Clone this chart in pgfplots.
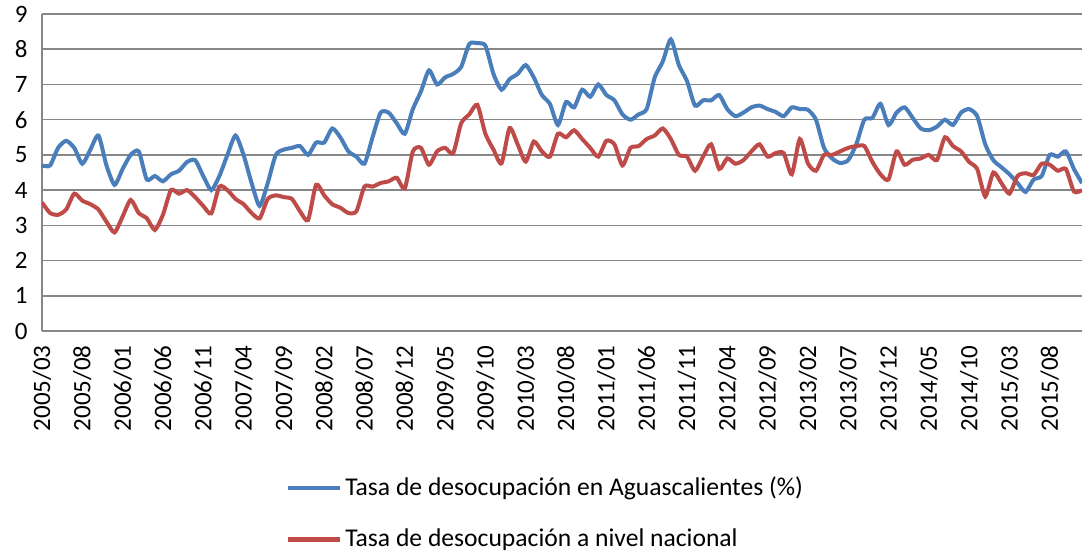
\documentclass[border=0pt]{standalone}
\usepackage{pgfplots}
\pgfplotsset{compat=1.18}
\usepackage{pgfplotstable}
\usepackage{fontspec}
\setmainfont{Carlito}
\definecolor{exblue}{HTML}{4A7EBB}
\definecolor{exred}{HTML}{BE4B48}
\definecolor{gridgray}{HTML}{878787}
\pgfplotstableread{
i a n
0 4.70 3.65
1 4.70 3.35
2 5.20 3.30
3 5.40 3.45
4 5.20 3.90
5 4.75 3.70
6 5.15 3.60
7 5.55 3.45
8 4.70 3.10
9 4.15 2.80
10 4.60 3.25
11 5.00 3.72
12 5.10 3.35
13 4.30 3.20
14 4.40 2.87
15 4.25 3.30
16 4.45 4.00
17 4.55 3.90
18 4.80 4.00
19 4.85 3.80
20 4.40 3.55
21 4.00 3.34
22 4.40 4.10
23 5.00 4.00
24 5.55 3.75
25 5.00 3.60
26 4.20 3.35
27 3.55 3.20
28 4.20 3.75
29 5.00 3.85
30 5.15 3.80
31 5.20 3.75
32 5.25 3.40
33 5.00 3.15
34 5.35 4.15
35 5.35 3.85
36 5.75 3.60
37 5.50 3.50
38 5.10 3.35
39 4.95 3.40
40 4.75 4.10
41 5.50 4.10
42 6.20 4.20
43 6.20 4.25
44 5.90 4.35
45 5.60 4.05
46 6.30 5.10
47 6.80 5.20
48 7.40 4.72
49 7.00 5.10
50 7.20 5.20
51 7.30 5.05
52 7.50 5.90
53 8.15 6.15
54 8.17 6.42
55 8.10 5.60
56 7.30 5.15
57 6.85 4.76
58 7.15 5.76
59 7.30 5.30
60 7.55 4.81
61 7.20 5.38
62 6.70 5.10
63 6.45 4.95
64 5.85 5.60
65 6.50 5.50
66 6.35 5.70
67 6.85 5.45
68 6.65 5.20
69 7.00 4.95
70 6.70 5.40
71 6.55 5.30
72 6.15 4.70
73 6.00 5.20
74 6.15 5.25
75 6.30 5.45
76 7.20 5.55
77 7.65 5.75
78 8.28 5.45
79 7.55 5.00
80 7.10 4.95
81 6.40 4.55
82 6.55 4.95
83 6.55 5.30
84 6.70 4.60
85 6.30 4.90
86 6.10 4.75
87 6.20 4.85
88 6.35 5.10
89 6.40 5.30
90 6.30 4.95
91 6.22 5.05
92 6.10 5.05
93 6.35 4.45
94 6.30 5.45
95 6.28 4.76
96 6.00 4.55
97 5.20 5.00
98 4.90 5.00
99 4.77 5.10
100 4.85 5.20
101 5.30 5.25
102 6.00 5.25
103 6.05 4.80
104 6.45 4.45
105 5.85 4.30
106 6.20 5.10
107 6.35 4.72
108 6.05 4.86
109 5.75 4.90
110 5.70 5.00
111 5.80 4.85
112 6.00 5.50
113 5.85 5.25
114 6.20 5.10
115 6.30 4.80
116 6.10 4.60
117 5.30 3.82
118 4.85 4.50
119 4.65 4.20
120 4.45 3.90
121 4.20 4.40
122 3.95 4.48
123 4.30 4.43
124 4.40 4.75
125 5.00 4.72
126 4.95 4.55
127 5.10 4.60
128 4.60 3.96
129 4.20 4.00
}\datatable
\begin{document}
\begin{tikzpicture}
\begin{axis}[
  scale only axis,
  width=520pt, height=158.5pt,
  xmin=0, xmax=129,
  ymin=0, ymax=9,
  ytick={0,1,...,9},
  xtick={0,5,...,125},
  xticklabels={2005/03,2005/08,2006/01,2006/06,2006/11,2007/04,2007/09,2008/02,2008/07,2008/12,2009/05,2009/10,2010/03,2010/08,2011/01,2011/06,2011/11,2012/04,2012/09,2013/02,2013/07,2013/12,2014/05,2014/10,2015/03,2015/08},
  xticklabel style={rotate=90, anchor=east, font=\fontsize{12.5}{14}\selectfont, inner sep=0pt},
  yticklabel style={font=\fontsize{12.5}{14}\selectfont, inner sep=0pt},
  /pgf/number format/assume math mode=true,
  axis x line*=bottom,
  axis y line*=left,
  axis line style={gridgray, line width=0.75pt},
  ymajorgrids,
  major grid style={gridgray, line width=0.75pt},
  major tick length=0pt,
  xticklabel shift=7pt,
  yticklabel shift=7pt,
  legend cell align=left,
  legend style={draw=none, at={(0.2337,-0.5757)}, anchor=west, inner sep=0pt,
    font=\fontsize{12.8}{15}\selectfont, row sep=12pt,
    nodes={inner sep=1.5pt}},
  legend image code/.code={\draw[#1, line width=2.4pt] (0pt,0pt) -- (26pt,0pt);},
]
\addplot[exblue, line width=2pt, smooth, tension=0.4] table[x=i, y=a] {\datatable};
\addlegendentry{Tasa de desocupación en Aguascalientes (\%)}
\addplot[exred, line width=2pt, smooth, tension=0.4] table[x=i, y=n] {\datatable};
\addlegendentry{Tasa de desocupación a nivel nacional}
\end{axis}
\pgfresetboundingbox
\path (-21pt,-112pt) rectangle (521pt,165.5pt);
\end{tikzpicture}
\end{document}
